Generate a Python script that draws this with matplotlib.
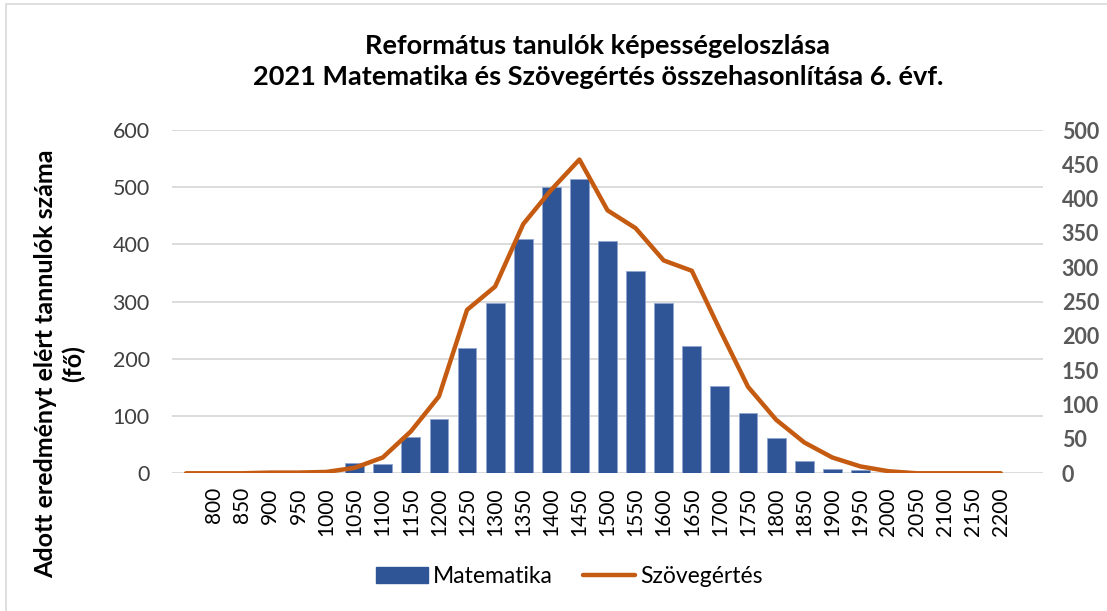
import numpy as np
import matplotlib
matplotlib.use("Agg")
import matplotlib.pyplot as plt
from matplotlib.patches import Rectangle
from matplotlib.lines import Line2D

plt.rcParams['font.family'] = ['Lato', 'DejaVu Sans']

categories = ['', '800', '850', '900', '950', '1000', '1050', '1100', '1150', '1200',
              '1250', '1300', '1350', '1400', '1450', '1500', '1550', '1600', '1650',
              '1700', '1750', '1800', '1850', '1900', '1950', '2000', '2050', '2100',
              '2150', '2200', '']
matematika = [0, 0, 0, 0, 0, 0, 18, 16, 63, 95, 219, 298, 409, 501, 514, 406, 354,
              298, 223, 153, 105, 62, 22, 7, 5, 0, 0, 0, 0, 0, 0]
szovegertes = [0, 0, 0, 1, 1, 2, 8, 23, 61, 112, 238, 272, 363, 413, 457, 383, 357,
               310, 295, 209, 126, 78, 45, 23, 10, 3, 0, 0, 0, 0, np.nan]

title = "Református tanulók képességeloszlása\n2021 Matematika és Szövegértés összehasonlítása 6. évf."
ylabel = "Adott eredményt elért tannulók száma\n(fő)"

BLUE = '#2F5597'
ORANGE = '#C55A11'
GRID = '#D9D9D9'

fig = plt.figure(figsize=(11.07, 6.11), dpi=100)
fig.patches.append(Rectangle((0.0055, -0.01), 0.999, 1.003, transform=fig.transFigure,
                             fill=False, edgecolor='#D9D9D9', linewidth=1.2, zorder=0))

ax = fig.add_axes([0.1554, 0.2254, 0.7868, 0.5618])
x = np.arange(len(categories))
ax.bar(x, matematika, width=0.67, color=BLUE, edgecolor='#8FA6CF', linewidth=0.6, zorder=3)
ax.set_xlim(-0.5, len(categories) - 0.5)
ax.set_ylim(0, 600)
ax.set_yticks(np.arange(0, 601, 100))
ax.yaxis.grid(True, color=GRID, linewidth=1.3, zorder=0)
ax.set_axisbelow(True)
for s in ax.spines.values():
    s.set_visible(False)
ax.set_xticks(x)
ax.set_xticklabels(categories, rotation=90, fontsize=15, color='#000000')
ax.tick_params(axis='both', length=0)
ax.tick_params(axis='y', labelsize=15.5, labelcolor='#404040', pad=16)
ax.tick_params(axis='x', pad=10)

ax2 = ax.twinx()
ax2.plot(x, szovegertes, color=ORANGE, linewidth=3.2, solid_capstyle='round',
         solid_joinstyle='round', zorder=4)
ax2.set_ylim(0, 500)
ax2.set_yticks(np.arange(0, 501, 50))
for s in ax2.spines.values():
    s.set_visible(False)
ax2.tick_params(axis='y', length=0, labelsize=15.5, labelcolor='#595959', pad=13.5)
for lab in ax2.get_yticklabels():
    lab.set_fontweight('bold')

fig.text(0.540, 0.899, title, ha='center', va='center', fontsize=19.5,
         fontweight='bold', linespacing=1.35)
fig.text(0.054, 0.405, ylabel, ha='center', va='center', rotation=90,
         fontsize=18, fontweight='bold', linespacing=1.2)

handles = [Rectangle((0, 0), 1, 1, color=BLUE),
           Line2D([0], [0], color=ORANGE, linewidth=3.2, solid_capstyle='round')]
fig.legend(handles, ['Matematika', 'Szövegértés'], loc='center',
           bbox_to_anchor=(0.514, 0.056), ncol=2, frameon=False, fontsize=16.5,
           handlelength=2.3, columnspacing=1.3, handletextpad=0.2)

fig.savefig('out.png', dpi=100)
